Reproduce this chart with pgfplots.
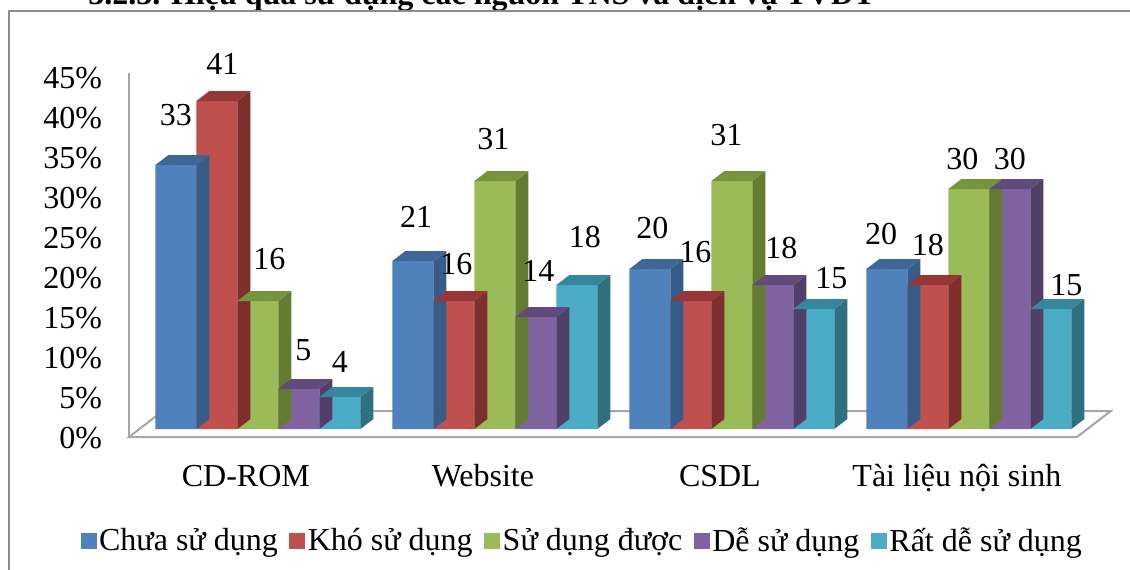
\documentclass[border=0pt]{standalone}
\usepackage{fontspec}
\setmainfont{Liberation Serif}
\usepackage{pgfplots}
\pgfplotsset{compat=1.18}
\usepackage{pgfplotstable}

\newcommand\fs{\fontsize{16pt}{19pt}\selectfont}

% front, top and side shades of each series
\definecolor{cA}{HTML}{4F81BD}\definecolor{cAt}{HTML}{3D6797}\definecolor{cAs}{HTML}{375C88}
\definecolor{cB}{HTML}{C0504D}\definecolor{cBt}{HTML}{963735}\definecolor{cBs}{HTML}{7E2E2C}
\definecolor{cC}{HTML}{9BBB59}\definecolor{cCt}{HTML}{77933C}\definecolor{cCs}{HTML}{647B32}
\definecolor{cD}{HTML}{8064A2}\definecolor{cDt}{HTML}{614A7C}\definecolor{cDs}{HTML}{523F69}
\definecolor{cE}{HTML}{4BACC6}\definecolor{cEt}{HTML}{35879D}\definecolor{cEs}{HTML}{2E6F80}
\definecolor{framegray}{HTML}{8C8C8C}
\definecolor{floorgray}{HTML}{A6A6A6}

% g = category, v = percent, lx/ly = label offset (pt) from the bar top
\pgfplotstableread{
g v lx ly
0 33 0 25
1 21 1.6 22
2 20 1.25 20.5
3 20 -2.9 17.5
}\tblA
\pgfplotstableread{
g v lx ly
0 41 2.75 18.5
1 16 1.25 18.5
2 16 2.25 24.5
3 18 0 20
}\tblB
\pgfplotstableread{
g v lx ly
0 16 5.75 21
1 31 -0.75 21
2 31 -2.75 23
3 30 -3.25 15
}\tblC
\pgfplotstableread{
g v lx ly
0 5 2.25 19.5
1 14 1.25 23
2 18 4.25 18.5
3 30 0 15
}\tblD
\pgfplotstableread{
g v lx ly
0 4 0 17.5
1 18 4 24
2 15 8.75 15.5
3 15 7.75 12
}\tblE

% depth faces of a column, drawn at the top centre of its front face
\pgfdeclareplotmark{topface}{%
  \pgfpathmoveto{\pgfpoint{-10.25pt}{0pt}}%
  \pgfpathlineto{\pgfpoint{10.25pt}{0pt}}%
  \pgfpathlineto{\pgfpoint{16.75pt}{5pt}}%
  \pgfpathlineto{\pgfpoint{-3.75pt}{5pt}}%
  \pgfpathclose
  \pgfusepathqfill}
\pgfdeclareplotmark{sideface}{%
  \pgfmathsetlengthmacro\sfbot{5pt-\barv*4pt}%
  \pgfmathsetlengthmacro\sfdown{-\barv*4pt}%
  \pgfpathmoveto{\pgfpoint{10.25pt}{0pt}}%
  \pgfpathlineto{\pgfpoint{16.75pt}{5pt}}%
  \pgfpathlineto{\pgfpoint{16.75pt}{\sfbot}}%
  \pgfpathlineto{\pgfpoint{10.25pt}{\sfdown}}%
  \pgfpathclose
  \pgfusepathqfill}

\pgfplotsset{
  legsq/.style={legend image code/.code={\fill[##1] (0pt,-4pt) rectangle (8pt,4pt);}},
}

% #1 table, #2 offset inside the group, #3 front, #4 top, #5 side colour
\newcommand\barseries[5]{%
  \addplot[only marks, mark=sideface, mark options={fill=#5, draw=none}, forget plot,
    visualization depends on={\thisrow{v} \as \barv}]
    table[x expr=\thisrow{g}+(#2), y=v] {#1};
  \addplot[only marks, mark=topface, mark options={fill=#4, draw=none}, forget plot]
    table[x expr=\thisrow{g}+(#2), y=v] {#1};
  \addplot[ybar, bar width=20.5pt, bar shift=0pt, fill=#3, draw=none, legsq]
    table[x expr=\thisrow{g}+(#2), y=v] {#1};
}
\newcommand\labelseries[2]{%
  \addplot[only marks, mark=*, mark size=0pt, mark options={draw=none, fill=none}, forget plot,
    visualization depends on={\thisrow{lx} \as \lx},
    visualization depends on={\thisrow{ly} \as \ly},
    nodes near coords={\pgfmathprintnumber[assume math mode=true]{\pgfplotspointmeta}},
    nodes near coords style={anchor=center, font=\fs, inner sep=0pt,
      xshift={\lx*1pt}, yshift={\ly*1pt}}]
    table[x expr=\thisrow{g}+(#2), y=v] {#1};
}

\begin{document}
\begin{tikzpicture}
\useasboundingbox (0,0) rectangle (565pt,284.5pt);
\clip (0,0) rectangle (565pt,284.5pt);

\node[anchor=base west, inner sep=0pt, font=\fs\bfseries] at (44pt,282pt)
  {3.2.3. Hiệu quả sử dụng các nguồn TNS và dịch vụ TVĐT};
\draw[framegray, line width=0.75pt] (4.5pt,-5pt) -- (4.5pt,279pt) -- (580pt,279pt);

\begin{axis}[
  at={(69.7pt,70pt)}, anchor=south west,
  x=118.5pt, y=4pt,
  xmin=-0.5, xmax=3.5, ymin=0, ymax=45,
  clip=false,
  axis line style={draw=none},
  major tick length=0pt,
  xtick={0,1,2,3},
  xticklabels={CD-ROM, Website, CSDL, Tài liệu nội sinh},
  xticklabel style={font=\fs, anchor=base, inner sep=0pt, yshift=-28.5pt, xshift=-6pt},
  ytick={0,5,...,45},
  yticklabel={\pgfmathparse{int(\tick)}\pgfmathresult\%},
  yticklabel style={font=\fs, anchor=east, inner sep=0pt, xshift=-18.5pt, yshift=-4.5pt},
  legend columns=5,
  legend style={draw=none, fill=none, font=\fs, at={(0.4674,-0.311)}, anchor=center,
    inner sep=0pt, nodes={inner sep=1.25pt},
    /tikz/every even column/.append style={column sep=4.5pt}},
]
% floor and value axis line
\draw[floorgray, line width=1pt]
  ([shift={(-5.2pt,-4pt)}]axis cs:-0.5,0) -- ([shift={(-5.2pt,-4pt)}]axis cs:3.5,0)
  -- ([shift={(11.7pt,9pt)}]axis cs:3.5,0) -- ([shift={(11.7pt,9pt)}]axis cs:-0.5,0) -- cycle;
\draw[floorgray, line width=1pt]
  ([shift={(-5.2pt,-4pt)}]axis cs:-0.5,0) -- ([shift={(-5.2pt,-4pt)}]axis cs:-0.5,45.5);

\barseries{\tblA}{-0.346}{cA}{cAt}{cAs}
\barseries{\tblB}{-0.173}{cB}{cBt}{cBs}
\barseries{\tblC}{0}{cC}{cCt}{cCs}
\barseries{\tblD}{0.173}{cD}{cDt}{cDs}
\barseries{\tblE}{0.346}{cE}{cEt}{cEs}

\labelseries{\tblA}{-0.346}
\labelseries{\tblB}{-0.173}
\labelseries{\tblC}{0}
\labelseries{\tblD}{0.173}
\labelseries{\tblE}{0.346}

\legend{Chưa sử dụng, Khó sử dụng, Sử dụng được, Dễ sử dụng, Rất dễ sử dụng}
\end{axis}
\end{tikzpicture}
\end{document}
